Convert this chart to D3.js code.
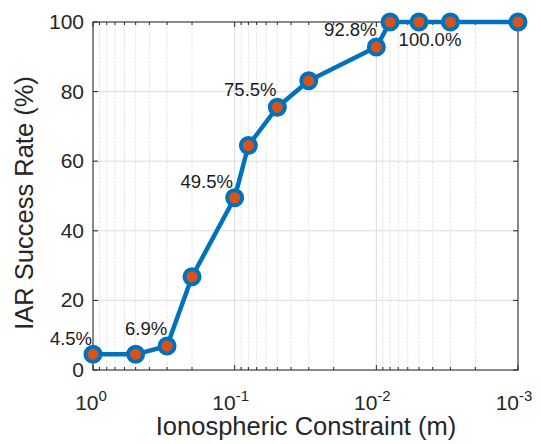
<!DOCTYPE html>
<html>
<head>
<meta charset="utf-8">
<script src="https://cdn.jsdelivr.net/npm/d3@7"></script>
<style>
  body { margin: 0; background: #fff; }
  svg { display: block; font-family: "Liberation Sans", Arial, sans-serif; }
</style>
</head>
<body>
<svg id="chart" width="541" height="444"></svg>
<script>
/* ── DATA ───────────────────────────────────────── */
const constraints = [1, 0.5, 0.3, 0.2, 0.1, 0.08, 0.05, 0.03, 0.01, 0.008, 0.005, 0.003, 0.001];
const successRate = [4.5, 4.5, 6.9, 26.8, 49.5, 64.5, 75.5, 83.1, 92.8, 100, 100, 100, 100];
const xTickValues = [1, 0.1, 0.01, 0.001];
const xTickExps   = ['0', '-1', '-2', '-3'];
const yTickValues = [0, 20, 40, 60, 80, 100];
const noteIndex   = [0, 2, 4, 6, 8, 10];
const noteText    = ['4.5%', '6.9%', '49.5%', '75.5%', '92.8%', '100.0%'];

/* ── LAYOUT ─────────────────────────────────────── */
const L = 93, R = 518, T = 22, B = 370;
const svg = d3.select('#chart');
const x = d3.scaleLog().domain([1, 0.001]).range([L, R]);
const y = d3.scaleLinear().domain([0, 100]).range([B, T]);
const axisCol = '#262626';

// minor x values 2..9 per decade
const minor = [];
[1, 0.1, 0.01].forEach(d => { for (let k = 2; k <= 9; k++) minor.push(d * k / 10); });

/* ── GRID ───────────────────────────────────────── */
const grid = svg.append('g');
grid.selectAll('.mg').data(minor).enter().append('line')
  .attr('x1', d => x(d)).attr('x2', d => x(d)).attr('y1', T).attr('y2', B)
  .attr('stroke', '#c8c8c8').attr('stroke-width', 0.8).attr('stroke-dasharray', '1,1.5');
grid.selectAll('.gx').data(xTickValues).enter().append('line')
  .attr('x1', d => x(d)).attr('x2', d => x(d)).attr('y1', T).attr('y2', B)
  .attr('stroke', '#dcdcdc').attr('stroke-width', 1);
grid.selectAll('.gy').data(yTickValues).enter().append('line')
  .attr('x1', L).attr('x2', R).attr('y1', d => y(d)).attr('y2', d => y(d))
  .attr('stroke', '#dcdcdc').attr('stroke-width', 1);

/* ── AXES (MATLAB style: inward ticks, full box) ── */
const ax = svg.append('g');
ax.append('rect').attr('x', L).attr('y', T).attr('width', R - L).attr('height', B - T)
  .attr('fill', 'none').attr('stroke', axisCol).attr('stroke-width', 1);

[B, T].forEach(yy => {
  const dir = yy === B ? -1 : 1;
  ax.selectAll(null).data(minor).enter().append('line')
    .attr('x1', d => x(d)).attr('x2', d => x(d)).attr('y1', yy).attr('y2', yy + dir * 3)
    .attr('stroke', axisCol);
  ax.selectAll(null).data(xTickValues).enter().append('line')
    .attr('x1', d => x(d)).attr('x2', d => x(d)).attr('y1', yy).attr('y2', yy + dir * 5)
    .attr('stroke', axisCol);
});
[L, R].forEach(xx => {
  const dir = xx === L ? 1 : -1;
  ax.selectAll(null).data(yTickValues).enter().append('line')
    .attr('x1', xx).attr('x2', xx + dir * 5).attr('y1', d => y(d)).attr('y2', d => y(d))
    .attr('stroke', axisCol);
});

// y tick labels
ax.selectAll('.yl').data(yTickValues).enter().append('text')
  .attr('x', L - 9).attr('y', d => y(d) + 7)
  .attr('text-anchor', 'end').attr('font-size', 21).attr('fill', axisCol)
  .text(d => d);

// x tick labels 10^n
const xl = ax.selectAll('.xl').data(xTickValues).enter().append('text')
  .attr('x', (d, i) => x(d) - (xTickExps[i].length > 1 ? 4 : 2)).attr('y', B + 40)
  .attr('text-anchor', 'middle').attr('font-size', 21).attr('fill', axisCol);
xl.append('tspan').text('10');
xl.append('tspan').attr('dy', -9).attr('font-size', 15).text((d, i) => xTickExps[i]);

// axis titles
svg.append('text').attr('x', 306).attr('y', 435)
  .attr('text-anchor', 'middle').attr('font-size', 25.5).attr('fill', axisCol)
  .text('Ionospheric Constraint (m)');
svg.append('text').attr('transform', `translate(33,203) rotate(-90)`)
  .attr('text-anchor', 'middle').attr('font-size', 25.5).attr('fill', axisCol)
  .text('IAR Success Rate (%)');

/* ── SERIES ─────────────────────────────────────── */
const pts = constraints.map((c, i) => ({ c, v: successRate[i] }));
svg.append('path').datum(pts)
  .attr('d', d3.line().x(d => x(d.c)).y(d => y(d.v)))
  .attr('fill', 'none').attr('stroke', '#0072BD').attr('stroke-width', 4.5)
  .attr('stroke-linejoin', 'round');
svg.selectAll('.pt').data(pts).enter().append('circle')
  .attr('cx', d => x(d.c)).attr('cy', d => y(d.v)).attr('r', 7.5)
  .attr('fill', '#D95319').attr('stroke', '#0072BD').attr('stroke-width', 4);

/* ── ANNOTATIONS ────────────────────────────────── */
const noteDx = [-22, -21, -28, -27, -26, 11];
const noteDy = [-9, -11, -10, -11, -11, 24];
svg.selectAll('.note').data(noteIndex).enter().append('text')
  .attr('x', (d, i) => x(constraints[d]) + noteDx[i])
  .attr('y', (d, i) => y(successRate[d]) + noteDy[i])
  .attr('text-anchor', 'middle').attr('font-size', 18.5).attr('fill', '#1a1a1a')
  .text((d, i) => noteText[i]);
</script>
</body>
</html>
